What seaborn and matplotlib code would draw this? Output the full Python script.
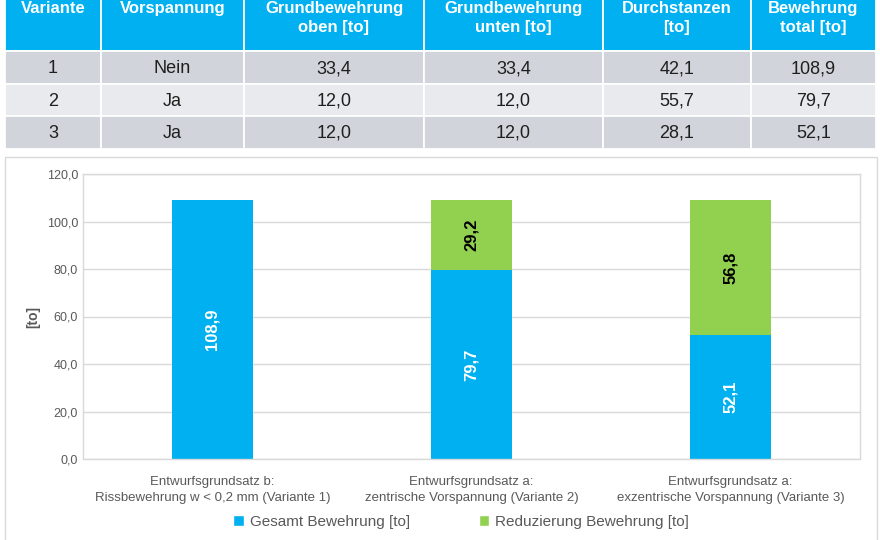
import matplotlib.pyplot as plt
import numpy as np
import pandas as pd
import seaborn as sns
from matplotlib.patches import Patch, Rectangle
from matplotlib.ticker import FuncFormatter

# Tabellenwerte
variante = ["1", "2", "3"]
vorspannung = ["Nein", "Ja", "Ja"]
grund_oben = [33.4, 12.0, 12.0]
grund_unten = [33.4, 12.0, 12.0]
durchstanzen = [42.1, 55.7, 28.1]
header = [
    "Variante",
    "Vorspannung",
    "Grundbewehrung\noben [to]",
    "Grundbewehrung\nunten [to]",
    "Durchstanzen\n[to]",
    "Bewehrung\ntotal [to]",
]

# Diagrammwerte
kategorien = [
    "Entwurfsgrundsatz b:\nRissbewehrung w < 0,2 mm (Variante 1)",
    "Entwurfsgrundsatz a:\nzentrische Vorspannung (Variante 2)",
    "Entwurfsgrundsatz a:\nexzentrische Vorspannung (Variante 3)",
]
gesamt = [108.9, 79.7, 52.1]
reduzierung = [0.0, 29.2, 56.8]

BLAU = "#00B0F0"
GRUEN = "#92D050"
GRAU_TXT = "#595959"
GRAU_LINIE = "#D9D9D9"


def de(v, nd=1):
    return f"{v:.{nd}f}".replace(".", ",")


sns.set_theme(style="white")
plt.rcParams["font.family"] = ["Liberation Sans", "DejaVu Sans"]

fig = plt.figure(figsize=(8.8, 5.4), dpi=100)

# --- Tabelle (Layout in Pixelkoordinaten) ---
tab = fig.add_axes([0, 0, 1, 1])
tab.set_xlim(0, 880)
tab.set_ylim(540, 0)
tab.axis("off")

col_edges = [5, 101, 244, 424, 603, 751, 876]
row_edges = [-12, 51, 84, 116, 149]
row_colors = [BLAU, "#D1D4DA", "#E9EAED", "#D1D4DA"]

gesamt_tab = [o + u + d for o, u, d in zip(grund_oben, grund_unten, durchstanzen)]
zeilen = [
    [v, vs, de(o), de(u), de(d), de(t)]
    for v, vs, o, u, d, t in zip(variante, vorspannung, grund_oben, grund_unten, durchstanzen, gesamt_tab)
]

for r in range(4):
    y0, y1 = row_edges[r], row_edges[r + 1]
    for c in range(6):
        x0, x1 = col_edges[c], col_edges[c + 1]
        tab.add_patch(Rectangle((x0, y0), x1 - x0, y1 - y0, facecolor=row_colors[r],
                                edgecolor="white", linewidth=1.3))
        xc = (x0 + x1) / 2
        if r == 0:
            tab.text(xc, 1, header[c], ha="center", va="top", color="white",
                     fontsize=12, fontweight="bold", linespacing=1.3)
        else:
            tab.text(xc, (y0 + y1) / 2 + 1, zeilen[r - 1][c], ha="center", va="center",
                     color="#1F1F1F", fontsize=13)

# Rahmen um das Diagramm
tab.add_patch(Rectangle((5, 157), 872, 400, facecolor="white", edgecolor=GRAU_LINIE, linewidth=1))

# --- Diagramm ---
ax = fig.add_axes([83 / 880, 81 / 540, 777 / 880, 285 / 540])
df = pd.DataFrame({"kategorie": kategorien, "gesamt": gesamt, "reduzierung": reduzierung})
df["summe"] = df["gesamt"] + df["reduzierung"]

sns.barplot(data=df, x="kategorie", y="summe", color=GRUEN, width=0.315,
            saturation=1, linewidth=0, ax=ax)
sns.barplot(data=df, x="kategorie", y="gesamt", color=BLAU, width=0.315,
            saturation=1, linewidth=0, ax=ax)

for i, (g, rd) in enumerate(zip(gesamt, reduzierung)):
    ax.text(i, g / 2, de(g), rotation=90, ha="center", va="center",
            color="white", fontsize=12, fontweight="bold")
    if rd > 0:
        ax.text(i, g + rd / 2, de(rd), rotation=90, ha="center", va="center",
                color="black", fontsize=12, fontweight="bold")

ax.set_ylim(0, 120)
ax.set_xlim(-0.5, 2.5)
ax.set_yticks(np.arange(0, 121, 20))
ax.yaxis.set_major_formatter(FuncFormatter(lambda v, _: de(v)))
ax.grid(axis="y", color=GRAU_LINIE, linewidth=1)
ax.set_axisbelow(True)
for s in ax.spines.values():
    s.set_color(GRAU_LINIE)
    s.set_linewidth(1)
ax.tick_params(axis="both", length=0, colors=GRAU_TXT, labelsize=9)
ax.tick_params(axis="x", labelsize=9.5, pad=12)
for lbl in ax.get_xticklabels():
    lbl.set_linespacing(1.5)
ax.set_xlabel("")
ax.set_ylabel("[to]", color=GRAU_TXT, fontsize=10, fontweight="bold", labelpad=5)

handles = [Patch(facecolor=BLAU, label="Gesamt Bewehrung [to]"),
           Patch(facecolor=GRUEN, label="Reduzierung Bewehrung [to]")]
leg = fig.legend(handles=handles, loc="center", bbox_to_anchor=(461 / 880, 1 - 522 / 540),
                 ncol=2, frameon=False, fontsize=11, handlelength=0.7, handleheight=0.7,
                 handletextpad=0.4, columnspacing=4.5)
for t in leg.get_texts():
    t.set_color(GRAU_TXT)

fig.savefig("out.png", dpi=100)
